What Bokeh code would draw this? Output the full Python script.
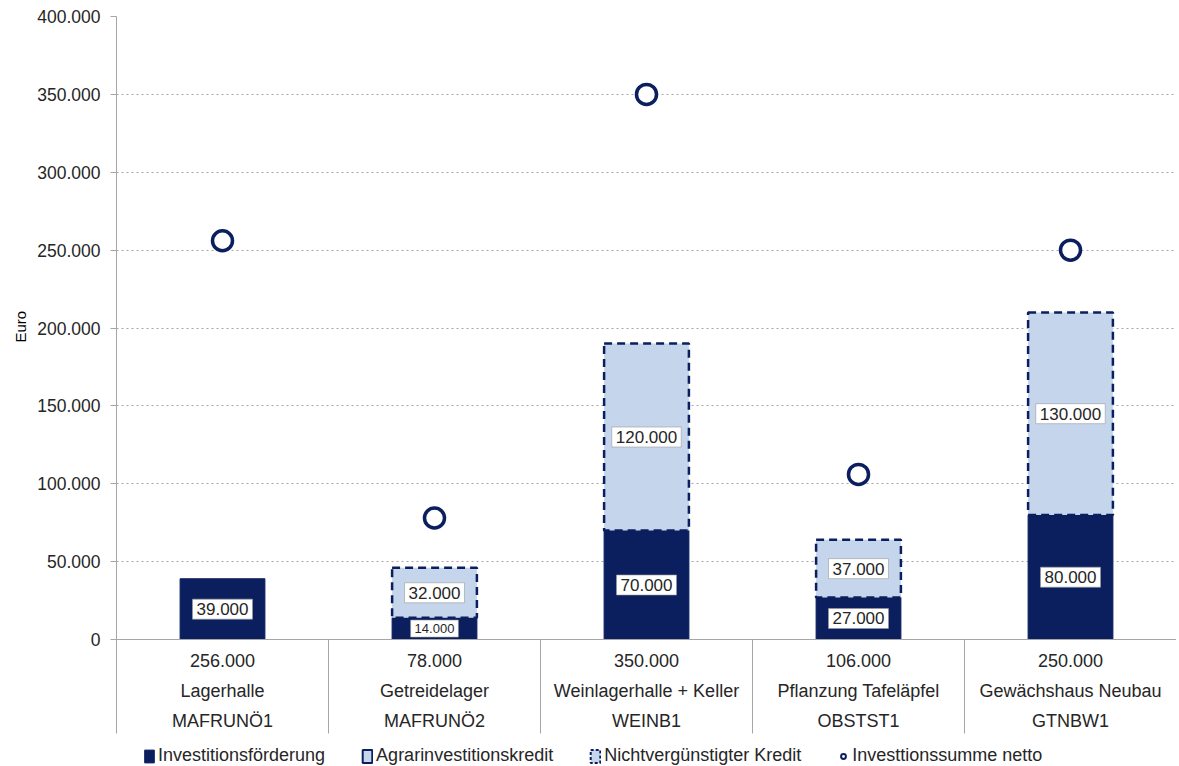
import math
from bokeh.plotting import figure
from bokeh.models import (ColumnDataSource, Range1d, FixedTicker, CustomJSTickFormatter,
                          Span, Legend, LegendItem, Title)
from bokeh.embed import file_html
from bokeh.resources import INLINE
from bokeh.core.properties import value

# ---------------- data ----------------
codes = ["MAFRUNÖ1", "MAFRUNÖ2", "WEINB1", "OBSTST1", "GTNBW1"]
projects = ["Lagerhalle", "Getreidelager", "Weinlagerhalle + Keller",
            "Pflanzung Tafeläpfel", "Gewächshaus Neubau"]
investitionsfoerderung = [39000, 14000, 70000, 27000, 80000]
agrarinvestitionskredit = [0, 0, 0, 0, 0]
nichtverguenstigter_kredit = [0, 32000, 120000, 37000, 130000]
investitionssumme_netto = [256000, 78000, 350000, 106000, 250000]
y_ticks = [0, 50000, 100000, 150000, 200000, 250000, 300000, 350000, 400000]
series_names = ["Investitionsförderung", "Agrarinvestitionskredit",
                "Nichtvergünstigter Kredit", "Investtionssumme netto"]

# ---------------- style / layout ----------------
NAVY = "#0b1f5e"
LIGHT = "#c5d5ec"
GRID = "#a6a6a6"
TXT = "#262626"
FONT = "Liberation Sans"
Y_BOTTOM = -81540      # frame bottom (room for table + legend)
TABLE_BOTTOM = -60350  # lower edge of the category table
NAN = float("nan")


def fmt(v):
    return f"{v:,}".replace(",", ".")


n = len(codes)
xs = [i + 0.5 for i in range(n)]
BAR_W = 0.4

p = figure(output_backend="svg", toolbar_location=None,
           frame_width=1060, frame_height=750,
           min_border_left=116, min_border_right=0, min_border_top=16,
           min_border_bottom=0,
           x_range=Range1d(0, n), y_range=Range1d(Y_BOTTOM, y_ticks[-1]))
p.outline_line_color = None
p.background_fill_color = "white"
p.border_fill_color = "white"

# axes
p.xaxis.visible = False
p.xgrid.visible = False
yax = p.yaxis[0]
yax.ticker = FixedTicker(ticks=y_ticks)
yax.bounds = (TABLE_BOTTOM, y_ticks[-1])
yax.formatter = CustomJSTickFormatter(
    code="return Math.round(tick).toString().replace(/\\B(?=(\\d{3})+(?!\\d))/g, '.');")
yax.axis_line_color = GRID
yax.major_tick_line_color = GRID
yax.major_tick_out = 6
yax.major_tick_in = 0
yax.minor_tick_line_color = None
yax.major_label_standoff = 10
yax.major_label_text_font = FONT
yax.major_label_text_font_size = "17.5px"
yax.major_label_text_color = TXT
p.ygrid.grid_line_color = GRID
p.ygrid.grid_line_dash = "2 3"
p.ygrid.grid_line_width = 1

# y axis title
p.add_layout(Title(text="Euro", align="left", offset=424, standoff=12,
                   text_font=FONT, text_font_size="15px",
                   text_font_style="normal", text_color="black"), "left")

# zero line
p.add_layout(Span(location=0, dimension="width", line_color=GRID, line_width=1.2))

# category dividers below zero
p.segment(x0=list(range(1, n)), x1=list(range(1, n)), y0=0, y1=TABLE_BOTTOM,
          line_color=GRID, line_width=1)

# stacked bars
src_inv = ColumnDataSource(dict(x=xs, top=investitionsfoerderung,
                                bottom=[0] * n))
p.vbar(x="x", top="top", bottom="bottom", width=BAR_W, source=src_inv,
       fill_color=NAVY, line_color=NAVY, line_width=1)

nb = [a + b for a, b in zip(investitionsfoerderung, agrarinvestitionskredit)]
idx = [i for i in range(n) if nichtverguenstigter_kredit[i] > 0]
src_nicht = ColumnDataSource(dict(
    x=[xs[i] for i in idx],
    bottom=[nb[i] for i in idx],
    top=[nb[i] + nichtverguenstigter_kredit[i] for i in idx]))
p.vbar(x="x", top="top", bottom="bottom", width=BAR_W, source=src_nicht,
       fill_color=LIGHT, line_color=NAVY, line_width=2.5, line_dash="8 5")

# totals
src_sum = ColumnDataSource(dict(x=xs, y=investitionssumme_netto))
p.scatter(x="x", y="y", source=src_sum, marker="circle", size=20,
          fill_color="white", line_color=NAVY, line_width=3.5)

# value labels inside bars
lab_x, lab_y, lab_t, lab_fs = [], [], [], []
for i in range(n):
    v = investitionsfoerderung[i]
    lab_x.append(xs[i]); lab_y.append(v / 2); lab_t.append(fmt(v))
    lab_fs.append("13px" if v < 20000 else "17px")
for i in idx:
    v = nichtverguenstigter_kredit[i]
    lab_x.append(xs[i]); lab_y.append(nb[i] + v / 2); lab_t.append(fmt(v))
    lab_fs.append("17px")
src_lab = ColumnDataSource(dict(x=lab_x, y=lab_y, t=lab_t, fs=lab_fs))
p.text(x="x", y="y", text="t", source=src_lab,
       text_align="center", text_baseline="middle",
       text_font=value(FONT), text_font_size="fs", text_color=TXT,
       background_fill_color="white",
       border_line_color="#9a9a9a", border_line_width=0.6,
       padding=4)

# category table under the axis
src_tab = ColumnDataSource(dict(
    x=xs, s=[fmt(v) for v in investitionssumme_netto], pr=projects, c=codes,
    y=[0] * n))
for col, off in (("s", 21), ("pr", 51), ("c", 81)):
    p.text(x="x", y="y", text=col, source=src_tab, y_offset=off,
           text_align="center", text_baseline="middle",
           text_font=value(FONT), text_font_size="18px", text_color=TXT)

# legend (style-only renderers holding a single NaN so nothing is plotted)
lg_inv = p.vbar(x=[NAN], top=[NAN], width=BAR_W, fill_color=NAVY, line_color=NAVY)
lg_agr = p.vbar(x=[NAN], top=[NAN], width=BAR_W, fill_color=LIGHT, line_color=NAVY,
                line_width=2)
lg_nic = p.vbar(x=[NAN], top=[NAN], width=BAR_W, fill_color=LIGHT, line_color=NAVY,
                line_width=2, line_dash="3 2")
lg_sum = p.scatter(x=[NAN], y=[NAN], marker="circle", size=10, fill_color="white",
                   line_color=NAVY, line_width=2)
legend = Legend(items=[LegendItem(label=series_names[0], renderers=[lg_inv]),
                       LegendItem(label=series_names[1], renderers=[lg_agr]),
                       LegendItem(label=series_names[2], renderers=[lg_nic]),
                       LegendItem(label=series_names[3], renderers=[lg_sum])],
                orientation="horizontal", location=(27, 0),
                label_text_font=FONT, label_text_font_size="18px",
                label_text_color=TXT, glyph_width=12, glyph_height=16,
                label_standoff=3, spacing=36, padding=0, margin=0,
                border_line_color=None, background_fill_alpha=0)
p.add_layout(legend)

open("out.html", "w").write(file_html(p, INLINE))
